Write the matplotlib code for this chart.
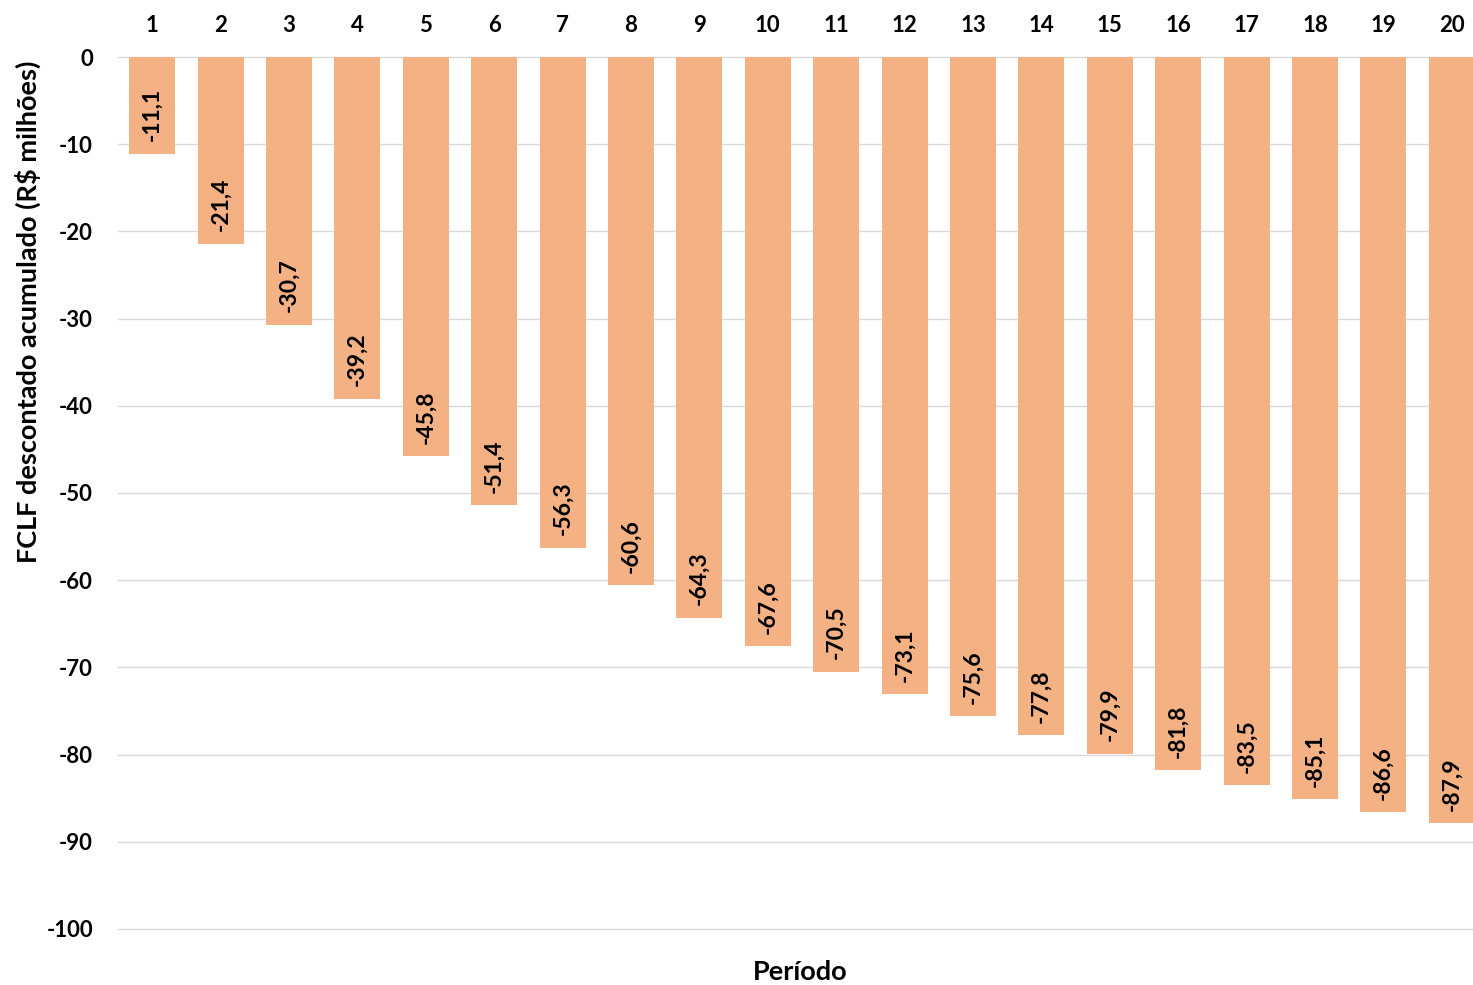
import numpy as np
from matplotlib import pyplot as plt

periodos = list(range(1, 21))
fclf_acum = [-11.1, -21.4, -30.7, -39.2, -45.8, -51.4, -56.3, -60.6, -64.3, -67.6,
             -70.5, -73.1, -75.6, -77.8, -79.9, -81.8, -83.5, -85.1, -86.6, -87.9]

plt.rcParams['font.family'] = ['Lato', 'DejaVu Sans']
plt.rcParams['font.weight'] = 'bold'
plt.rcParams['axes.unicode_minus'] = False

fig = plt.figure(figsize=(14.73, 9.85), dpi=100)
ax = fig.add_axes([0.0801, 0.0569, 0.9199, 0.8852])

ax.bar(periodos, fclf_acum, width=0.67, color='#F4B183', zorder=2)

# rotulos dentro das barras, junto a base
for x, v in zip(periodos, fclf_acum):
    ax.annotate(f'{v:.1f}'.replace('.', ','), xy=(x, v), xytext=(0, 9),
                textcoords='offset points', ha='center', va='bottom',
                rotation=90, fontsize=16.5, fontweight='bold', color='black')

ax.set_xlim(0.5, 20.31)
ax.set_ylim(-100, 0)
ax.set_yticks(np.arange(-100, 1, 10))
ax.set_xticks(periodos)
ax.xaxis.tick_top()
ax.tick_params(axis='both', length=0, labelsize=16)
ax.tick_params(axis='x', pad=15)
ax.tick_params(axis='y', pad=18)
for lbl in ax.get_xticklabels() + ax.get_yticklabels():
    lbl.set_fontweight('bold')

ax.grid(axis='y', color='#D9D9D9', linewidth=1, zorder=0)
for gl in ax.get_ygridlines():
    gl.set_clip_on(False)
for s in ax.spines.values():
    s.set_visible(False)

fig.text(0.019, 0.683, 'FCLF descontado acumulado (R$ milhões)', rotation=90,
         ha='center', va='center', fontsize=19.5, fontweight='bold')
fig.text(0.543, 0.0132, 'Período', ha='center', va='center', fontsize=19.5, fontweight='bold')

fig.savefig('out.png', dpi=100)
